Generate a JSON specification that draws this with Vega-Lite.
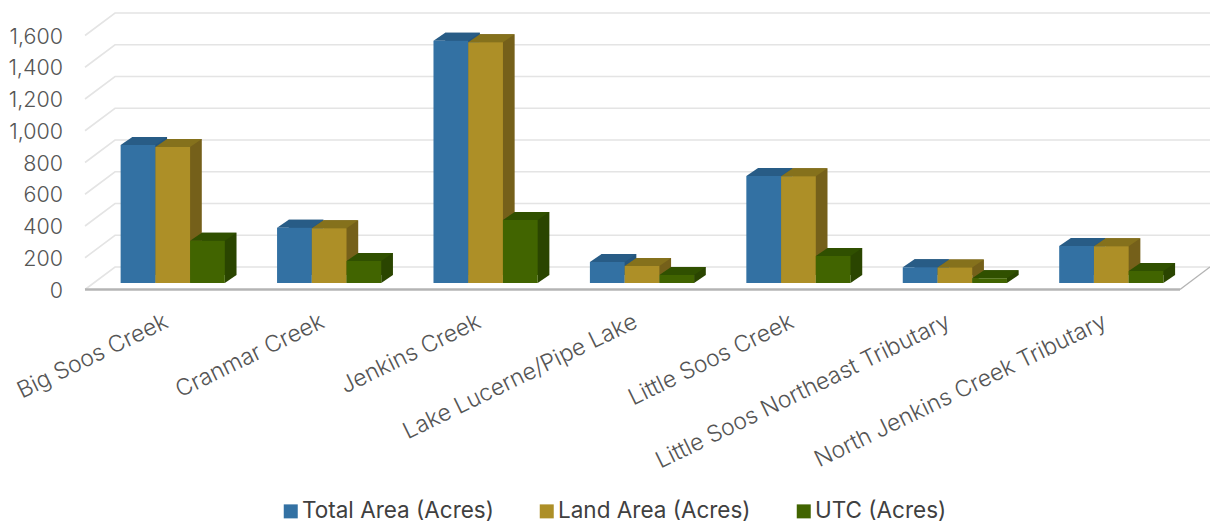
{
  "$schema": "https://vega.github.io/schema/vega-lite/v6.json",
  "width": 1095,
  "height": 254,
  "autosize": "none",
  "padding": {"left": 94.5, "top": 29, "right": 20.5, "bottom": 239},
  "background": "#ffffff",
  "config": {
    "view": {"stroke": null},
    "font": "Inter",
    "axisX": {
      "domain": false, "ticks": false, "grid": false,
      "labelAngle": -26, "labelAlign": "right", "labelBaseline": "top",
      "labelPadding": 27, "labelOffset": -11, "labelFontSize": 23, "labelFontWeight": 300,
      "labelColor": "#555555", "labelLimit": 600, "labelOverlap": false
    },
    "axisY": {
      "domain": false, "ticks": false, "grid": false, "tickCount": 9,
      "labelPadding": 32, "labelOffset": 8, "labelFontSize": 21.5, "labelFontWeight": 300,
      "labelColor": "#555555", "labelOverlap": false
    }
  },
  "datasets": {
    "ticks": [
      {"tick": 0}, {"tick": 200}, {"tick": 400}, {"tick": 600}, {"tick": 800},
      {"tick": 1000}, {"tick": 1200}, {"tick": 1400}, {"tick": 1600}
    ],
    "areas": [
      {"watershed": "Big Soos Creek", "measure": "Total Area (Acres)", "acres": 869},
      {"watershed": "Big Soos Creek", "measure": "Land Area (Acres)", "acres": 857},
      {"watershed": "Big Soos Creek", "measure": "UTC (Acres)", "acres": 266},
      {"watershed": "Cranmar Creek", "measure": "Total Area (Acres)", "acres": 348},
      {"watershed": "Cranmar Creek", "measure": "Land Area (Acres)", "acres": 345},
      {"watershed": "Cranmar Creek", "measure": "UTC (Acres)", "acres": 139},
      {"watershed": "Jenkins Creek", "measure": "Total Area (Acres)", "acres": 1526},
      {"watershed": "Jenkins Creek", "measure": "Land Area (Acres)", "acres": 1516},
      {"watershed": "Jenkins Creek", "measure": "UTC (Acres)", "acres": 397},
      {"watershed": "Lake Lucerne/Pipe Lake", "measure": "Total Area (Acres)", "acres": 132},
      {"watershed": "Lake Lucerne/Pipe Lake", "measure": "Land Area (Acres)", "acres": 107},
      {"watershed": "Lake Lucerne/Pipe Lake", "measure": "UTC (Acres)", "acres": 50},
      {"watershed": "Little Soos Creek", "measure": "Total Area (Acres)", "acres": 674},
      {"watershed": "Little Soos Creek", "measure": "Land Area (Acres)", "acres": 672},
      {"watershed": "Little Soos Creek", "measure": "UTC (Acres)", "acres": 170},
      {"watershed": "Little Soos Northeast Tributary", "measure": "Total Area (Acres)", "acres": 99},
      {"watershed": "Little Soos Northeast Tributary", "measure": "Land Area (Acres)", "acres": 98},
      {"watershed": "Little Soos Northeast Tributary", "measure": "UTC (Acres)", "acres": 30},
      {"watershed": "North Jenkins Creek Tributary", "measure": "Total Area (Acres)", "acres": 233},
      {"watershed": "North Jenkins Creek Tributary", "measure": "Land Area (Acres)", "acres": 232},
      {"watershed": "North Jenkins Creek Tributary", "measure": "UTC (Acres)", "acres": 76}
    ]
  },
  "resolve": {"scale": {"color": "independent", "xOffset": "independent"}},
  "layer": [
    {
      "data": {"name": "ticks"},
      "mark": {"type": "point", "filled": false, "size": 4, "stroke": "#e4e4e4", "strokeWidth": 1.6, "opacity": 1, "shape": "M -87.7 6.5 L -57.7 -16 L 1037.3 -16"},
      "encoding": {
        "x": {"datum": "Big Soos Creek", "type": "nominal", "title": null, "scale": {"domain": ["Big Soos Creek", "Cranmar Creek", "Jenkins Creek", "Lake Lucerne/Pipe Lake", "Little Soos Creek", "Little Soos Northeast Tributary", "North Jenkins Creek Tributary"], "paddingInner": 0.334, "paddingOuter": 0.167}},
        "y": {"field": "tick", "type": "quantitative", "title": null, "scale": {"domain": [0, 1600], "nice": false}}
      }
    },
    {
      "data": {"values": [{"tick": 0}]},
      "mark": {"type": "point", "filled": false, "size": 4, "stroke": "#b4b4b4", "strokeWidth": 2.4, "opacity": 1, "shape": "M -87.7 6.5 L 1007.3 6.5"},
      "encoding": {
        "x": {"datum": "Big Soos Creek", "type": "nominal", "title": null},
        "y": {"field": "tick", "type": "quantitative", "title": null}
      }
    },
    {
      "data": {"values": [{"tick": 0}]},
      "mark": {"type": "point", "filled": false, "size": 4, "stroke": "#b4b4b4", "strokeWidth": 1.4, "opacity": 1, "shape": "M 68.7 6.5 L 98.7 -16"},
      "encoding": {
        "x": {"datum": "North Jenkins Creek Tributary", "type": "nominal", "title": null},
        "y": {"field": "tick", "type": "quantitative", "title": null}
      }
    },
    {
      "data": {"name": "areas"},
      "mark": {"type": "bar", "yOffset": -8},
      "encoding": {
        "x": {"field": "watershed", "type": "nominal", "title": null},
        "xOffset": {"field": "measure", "type": "nominal", "scale": {"domain": ["Total Area (Acres)", "Land Area (Acres)", "UTC (Acres)"], "range": [11.7, 115.9]}},
        "y": {"field": "acres", "type": "quantitative", "stack": null, "title": null},
        "y2": {"datum": 50.4},
        "color": {
          "field": "measure", "type": "nominal", "legend": null,
          "scale": {"domain": ["Total Area (Acres)", "Land Area (Acres)", "UTC (Acres)"], "range": ["#25557c", "#75601a", "#2a4500"]}
        }
      }
    },
    {
      "data": {"name": "areas"},
      "mark": {"type": "point", "filled": true, "size": 4, "opacity": 1, "strokeWidth": 0, "shape": "M 17.35 0 L 29.05 -8 L 17.35 -8 Z"},
      "encoding": {
        "x": {"field": "watershed", "type": "nominal", "title": null},
        "xOffset": {"field": "measure", "type": "nominal", "scale": {"domain": ["Total Area (Acres)", "Land Area (Acres)", "UTC (Acres)"], "range": [0, 104.2]}},
        "y": {"datum": 0, "type": "quantitative", "title": null},
        "color": {
          "field": "measure", "type": "nominal", "legend": null,
          "scale": {"domain": ["Total Area (Acres)", "Land Area (Acres)", "UTC (Acres)"], "range": ["#25557c", "#75601a", "#2a4500"]}
        }
      }
    },
    {
      "data": {"name": "areas"},
      "mark": {"type": "point", "filled": true, "size": 4, "opacity": 1, "strokeWidth": 0, "shape": "M -17.35 0 L -5.65 -8 L 29.05 -8 L 17.35 0 Z"},
      "encoding": {
        "x": {"field": "watershed", "type": "nominal", "title": null},
        "xOffset": {"field": "measure", "type": "nominal", "scale": {"domain": ["Total Area (Acres)", "Land Area (Acres)", "UTC (Acres)"], "range": [0, 104.2]}},
        "y": {"field": "acres", "type": "quantitative", "title": null},
        "color": {
          "field": "measure", "type": "nominal", "legend": null,
          "scale": {"domain": ["Total Area (Acres)", "Land Area (Acres)", "UTC (Acres)"], "range": ["#285c86", "#85711c", "#305000"]}
        }
      }
    },
    {
      "data": {"name": "areas"},
      "mark": {"type": "bar"},
      "encoding": {
        "x": {"field": "watershed", "type": "nominal", "title": null},
        "xOffset": {"field": "measure", "type": "nominal", "scale": {"domain": ["Total Area (Acres)", "Land Area (Acres)", "UTC (Acres)"], "range": [0, 104.2]}},
        "y": {"field": "acres", "type": "quantitative", "stack": null, "title": null},
        "color": {
          "field": "measure", "type": "nominal",
          "scale": {"domain": ["Total Area (Acres)", "Land Area (Acres)", "UTC (Acres)"], "range": ["#3371a3", "#ad8f27", "#416400"]},
          "legend": {
            "title": null, "orient": "none", "legendX": 185, "legendY": 471,
            "direction": "horizontal", "columns": 3, "symbolType": "square",
            "symbolSize": 196, "symbolStrokeWidth": 0, "labelFontSize": 22.5,
            "labelColor": "#404040", "labelOffset": 0, "columnPadding": 41,
            "labelLimit": 400
          }
        }
      }
    }
  ]
}
